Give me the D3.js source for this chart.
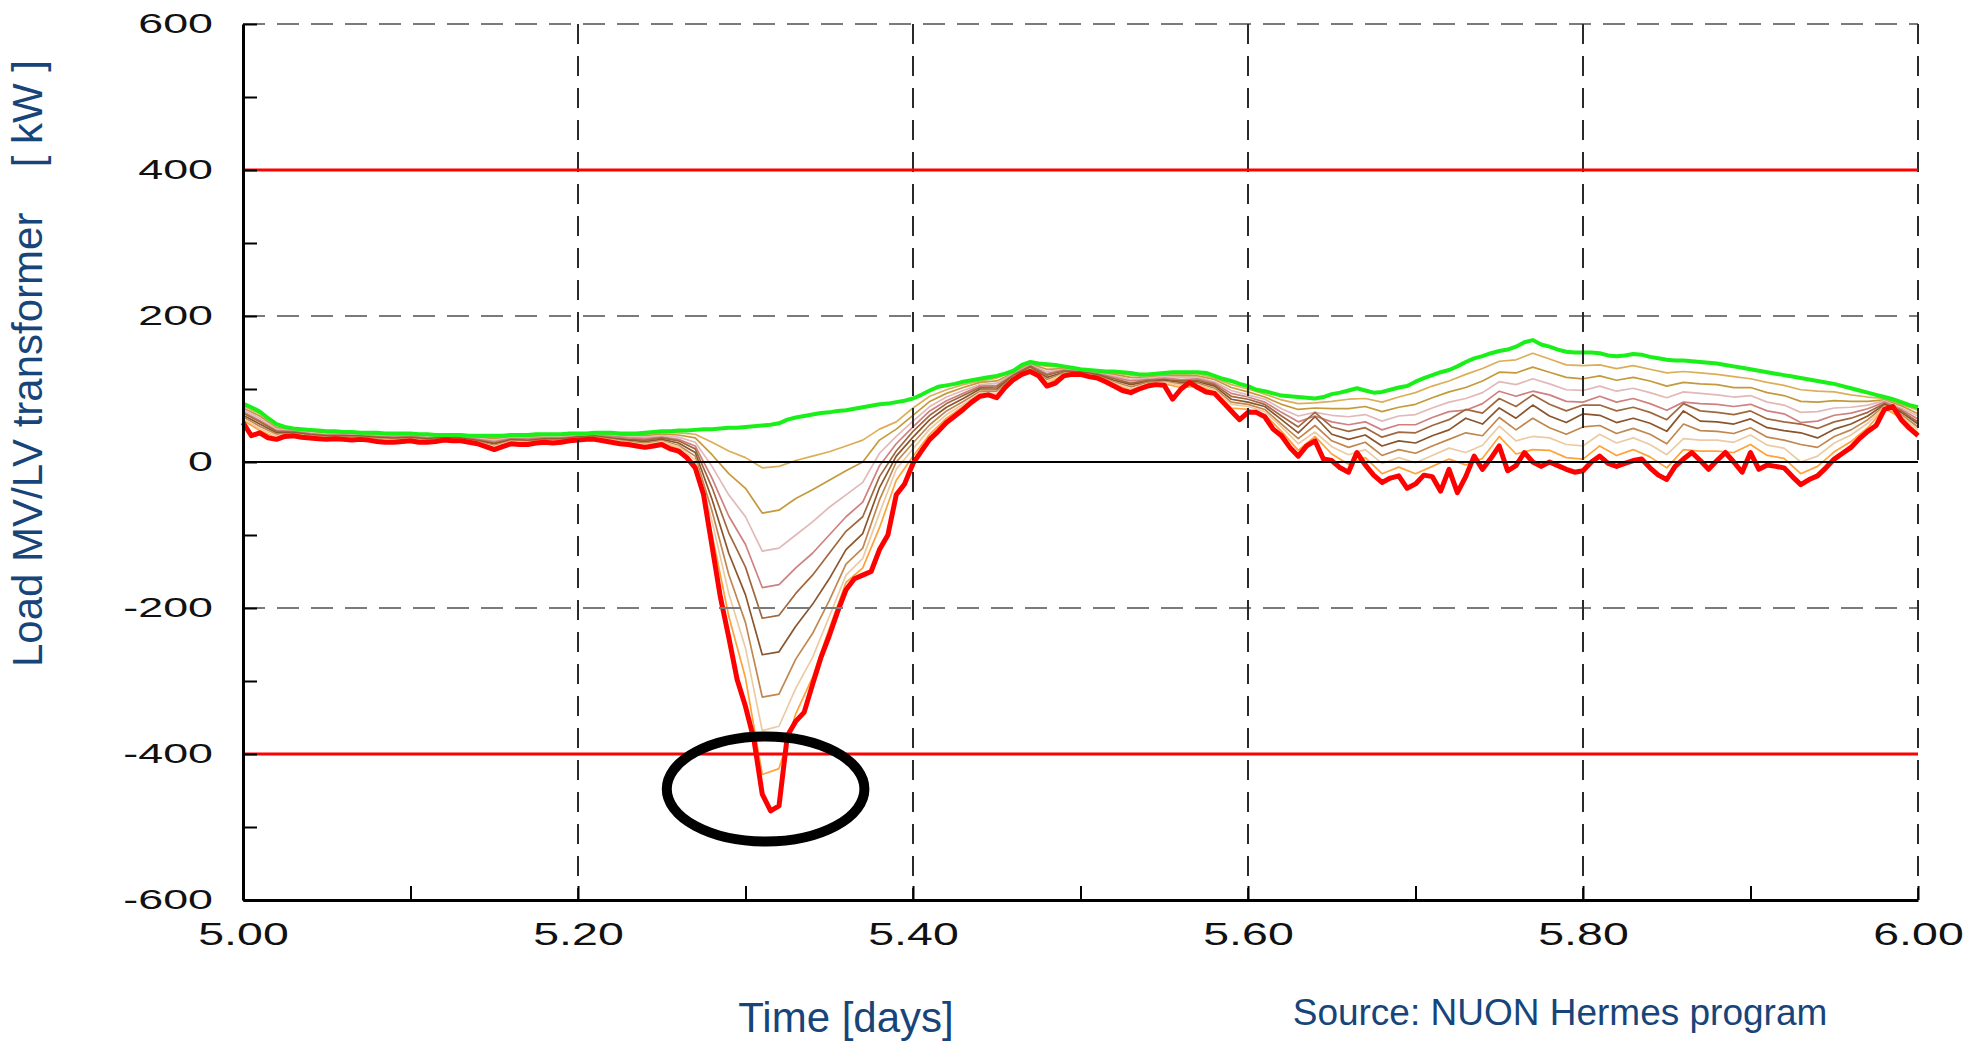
<!DOCTYPE html>
<html>

<head>
    <title>Load MV/LV transformer</title>
    <script src="https://cdnjs.cloudflare.com/ajax/libs/d3/7.8.5/d3.min.js"></script>
    <style>
        body { margin: 0; background: #fff; }
        svg { display: block; }
    </style>
</head>

<body>
    <div id="chart"></div>

    <script>
        // time grid: green and red every 0.005 day, the other curves every 0.01 day
        var fineStep = 0.005;
        var coarseStep = 0.01;

        // no PV (top, green)
        var greenLoad = [
            80, 75, 69, 60, 52, 48, 46, 45, 44, 43,
            42, 42, 41, 41, 40, 40, 40, 39, 39, 39,
            39, 38, 38, 37, 37, 37, 37, 36, 36, 36,
            36, 36, 37, 37, 37, 38, 38, 38, 38, 39,
            39, 39, 40, 40, 40, 39, 39, 39, 40, 41,
            42, 42, 43, 43, 44, 45, 45, 46, 47, 47,
            48, 49, 50, 51, 53, 58, 61, 63, 65, 67,
            68, 70, 71, 73, 75, 77, 79, 80, 82, 84,
            87, 92, 98, 103, 105, 107, 110, 112, 114, 116,
            118, 121, 125, 133, 137, 135, 134, 133, 131, 129,
            127, 126, 125, 124, 124, 123, 122, 120, 120, 121,
            122, 123, 123, 123, 123, 122, 118, 114, 111, 107,
            104, 99, 97, 94, 91, 90, 89, 88, 87, 89,
            93, 95, 98, 101, 98, 95, 96, 99, 102, 104,
            110, 115, 119, 123, 126, 131, 137, 142, 145, 149,
            152, 154, 158, 164, 167, 161, 158, 154, 151, 150,
            150, 150, 149, 146, 145, 146, 148, 147, 144, 142,
            140, 139, 139, 138, 137, 136, 135, 133, 131, 129,
            127, 125, 123, 121, 119, 117, 115, 113, 111, 109,
            107, 104, 101, 98, 95, 92, 89, 86, 82, 78,
            75
        ];

        // maximum PV (bottom, red)
        var redLoad = [
            54, 36, 40, 33, 31, 35, 36, 34, 33, 32,
            31, 32, 31, 30, 31, 30, 28, 27, 27, 28,
            29, 27, 27, 28, 30, 29, 29, 27, 25, 21,
            17, 21, 25, 24, 24, 26, 27, 26, 27, 29,
            30, 31, 31, 29, 27, 25, 24, 22, 20, 22,
            24, 18, 15, 6, -8, -45, -115, -185, -240, -298,
            -335, -380, -455, -478, -471, -375, -355, -343, -305, -268,
            -238, -205, -175, -160, -155, -150, -120, -100, -45, -30,
            -2, 15, 31, 42, 54, 63, 72, 82, 90, 92,
            88, 102, 113, 120, 124, 118, 104, 108, 118, 120,
            120, 117, 115, 110, 104, 98, 95, 100, 104, 106,
            105, 86, 100, 109, 102, 96, 94, 82, 70, 58,
            68, 68, 62, 45, 36, 20, 8, 22, 29, 4,
            2, -8, -14, 13, -4, -18, -28, -22, -19, -36,
            -30, -18, -20, -40, -10, -42, -20, 8, -10, 5,
            22, -12, -5, 13, 0, -6, 0, -5, -10, -14,
            -12, 0, 8, -2, -6, -2, 2, 4, -8, -18,
            -24, -6, 4, 13, 2, -10, 2, 13, 0, -14,
            13, -10, -4, -6, -8, -20, -31, -24, -19, -8,
            4, 12, 20, 32, 42, 50, 72, 76, 58, 46,
            36
        ];

        var curve1 = [
            77, 66, 50, 45, 43, 41, 40, 39, 39, 38,
            38, 37, 36, 36, 35, 34, 36, 36, 37, 37,
            38, 39, 39, 37, 38, 40, 40, 38, 27, 15,
            6, -8, -6, 2, 8, 14, 22, 30, 45, 55,
            74, 90, 99, 106, 111, 115, 124, 135, 131, 130,
            126, 124, 122, 119, 118, 120, 120, 121, 115, 106,
            100, 93, 85, 80, 81, 83, 86, 87, 82, 89,
            95, 104, 111, 120, 128, 138, 140, 149, 141, 133,
            132, 133, 128, 132, 127, 122, 124, 122, 120, 117,
            114, 109, 105, 99, 97, 96, 92, 89, 87, 79,
            71
        ];
        var curve2 = [
            74, 63, 47, 44, 42, 40, 39, 38, 37, 36,
            37, 36, 35, 35, 34, 32, 34, 34, 36, 36,
            37, 38, 37, 36, 36, 38, 37, 33, 10, -16,
            -36, -70, -66, -50, -38, -25, -12, 0, 30, 45,
            64, 83, 94, 102, 109, 111, 122, 134, 127, 128,
            125, 123, 120, 116, 116, 118, 118, 118, 113, 102,
            96, 89, 79, 72, 74, 73, 73, 76, 69, 75,
            79, 88, 96, 102, 111, 123, 122, 130, 123, 116,
            114, 118, 112, 116, 111, 104, 109, 107, 106, 102,
            102, 95, 91, 83, 82, 84, 83, 83, 85, 77,
            66
        ];
        var curve3 = [
            72, 60, 45, 43, 40, 38, 38, 37, 36, 35,
            36, 34, 35, 34, 32, 30, 33, 33, 34, 34,
            36, 37, 36, 34, 34, 36, 34, 27, -6, -45,
            -75, -122, -118, -100, -82, -62, -45, -28, 12, 35,
            56, 76, 89, 98, 106, 108, 121, 133, 124, 127,
            125, 122, 118, 113, 115, 117, 116, 116, 110, 98,
            92, 86, 73, 63, 68, 64, 62, 65, 56, 63,
            65, 74, 82, 87, 95, 110, 106, 114, 107, 99,
            98, 104, 97, 101, 95, 88, 96, 94, 92, 89,
            91, 82, 78, 68, 69, 74, 75, 78, 84, 74,
            63
        ];
        var curve4 = [
            69, 57, 43, 42, 39, 37, 37, 36, 35, 34,
            35, 33, 34, 34, 31, 28, 32, 32, 33, 33,
            35, 36, 35, 33, 32, 34, 31, 22, -22, -74,
            -113, -172, -168, -145, -125, -100, -75, -55, -5, 25,
            48, 70, 84, 94, 104, 105, 120, 132, 121, 126,
            124, 121, 116, 111, 113, 115, 113, 114, 108, 94,
            89, 82, 68, 55, 63, 55, 51, 55, 44, 51,
            51, 61, 69, 71, 80, 97, 90, 97, 92, 83,
            82, 90, 82, 87, 80, 71, 82, 80, 79, 76,
            79, 70, 66, 54, 56, 64, 67, 73, 82, 72,
            59
        ];
        var curve5 = [
            67, 55, 42, 41, 38, 36, 36, 35, 34, 33,
            34, 32, 33, 33, 30, 26, 31, 30, 32, 32,
            34, 35, 33, 31, 30, 33, 29, 18, -35, -97,
            -144, -214, -210, -180, -155, -125, -95, -75, -20, 15,
            42, 64, 80, 91, 102, 103, 119, 131, 119, 125,
            123, 120, 114, 108, 112, 113, 111, 112, 106, 90,
            86, 79, 63, 48, 68, 48, 42, 47, 34, 41,
            40, 50, 58, 72, 67, 87, 76, 92, 79, 70,
            78, 78, 70, 75, 68, 58, 80, 70, 68, 65,
            70, 59, 55, 52, 46, 55, 60, 68, 80, 70,
            55
        ];
        var curve6 = [
            64, 52, 40, 40, 37, 35, 35, 35, 33, 32,
            33, 31, 33, 32, 29, 25, 30, 29, 31, 31,
            34, 35, 32, 30, 28, 31, 26, 13, -51, -125,
            -182, -264, -260, -225, -195, -160, -120, -98, -35, 8,
            34, 58, 75, 87, 100, 100, 118, 129, 116, 123,
            123, 119, 112, 106, 110, 112, 109, 110, 104, 86,
            82, 76, 58, 40, 62, 38, 31, 37, 22, 29,
            26, 36, 44, 60, 52, 74, 60, 78, 63, 54,
            66, 64, 54, 60, 53, 42, 70, 56, 55, 52,
            59, 47, 43, 40, 33, 45, 52, 63, 79, 68,
            52
        ];
        var curve7 = [
            62, 49, 38, 39, 36, 34, 34, 34, 32, 31,
            32, 30, 32, 31, 28, 23, 29, 28, 30, 30,
            33, 34, 31, 28, 26, 29, 23, 8, -67, -154,
            -220, -322, -318, -270, -235, -190, -140, -118, -52, 0,
            26, 51, 70, 83, 97, 97, 117, 128, 113, 122,
            122, 118, 110, 103, 109, 110, 107, 108, 101, 82,
            79, 72, 52, 32, 50, 29, 20, 27, 9, 17,
            12, 22, 31, 40, 36, 61, 44, 60, 47, 38,
            48, 50, 39, 46, 38, 25, 52, 43, 42, 39,
            47, 34, 30, 24, 20, 35, 44, 58, 77, 65,
            48
        ];
        var curve8 = [
            59, 46, 36, 38, 35, 33, 33, 33, 31, 30,
            31, 29, 31, 31, 27, 21, 28, 27, 29, 29,
            32, 33, 30, 27, 24, 28, 21, 3, -81, -180,
            -255, -368, -362, -310, -268, -212, -155, -132, -70, -10,
            18, 45, 65, 79, 95, 94, 115, 127, 110, 121,
            121, 117, 108, 100, 107, 109, 105, 106, 99, 79,
            76, 69, 48, 25, 41, 21, 10, 17, -2, 6,
            -1, 9, 19, 13, 23, 49, 29, 35, 33, 24,
            22, 38, 26, 33, 24, 10, 32, 30, 30, 27,
            37, 23, 19, 0, 8, 26, 37, 53, 76, 63,
            44
        ];
        var curve9 = [
            57, 43, 33, 37, 34, 32, 32, 32, 29, 28,
            30, 28, 31, 30, 26, 19, 26, 25, 28, 28,
            31, 32, 28, 25, 22, 26, 18, -3, -99, -211,
            -296, -428, -420, -345, -295, -228, -165, -145, -90, -25,
            8, 38, 60, 76, 92, 91, 114, 126, 107, 119,
            121, 116, 106, 98, 106, 107, 102, 104, 96, 74,
            72, 65, 42, 16, 35, 11, -3, 6, -16, -7,
            -16, -6, 4, -4, 5, 35, 11, 17, 16, 6,
            4, 22, 9, 17, 7, -8, 17, 15, 15, 13,
            24, 9, 5, -16, -6, 14, 28, 47, 74, 60,
            40
        ];

        var middleCurves = [curve1, curve2, curve3, curve4, curve5, curve6, curve7, curve8, curve9];
        var middleColors = ["#dcae58", "#c49a3c", "#e2b8b8", "#cf8080", "#a0683e", "#8a552c", "#c08850", "#ebcba4", "#ffa238"];

        var yTicks = [-600, -500, -400, -300, -200, -100, 0, 100, 200, 300, 400, 500, 600];
        var xTicks = [5.0, 5.1, 5.2, 5.3, 5.4, 5.5, 5.6, 5.7, 5.8, 5.9, 6.0];
        var xTickLabels = ["5.00", "", "5.20", "", "5.40", "", "5.60", "", "5.80", "", "6.00"];
        var yGridLines = [-200, 200, 600];
        var xGridLines = [5.2, 5.4, 5.6, 5.8, 6.0];
        var limitLines = [400, -400];

        // the circled peak
        var markDay = 5.312, markLoad = -448, markHalfDays = 0.059, markHalfLoad = 72;

        var blue = "#17457a";
        var font = "'Liberation Sans', Arial, sans-serif";

        var svg = d3.select("#chart").append("svg")
            .attr("width", 1982)
            .attr("height", 1044);

        var x = d3.scaleLinear().domain([5, 6]).range([243, 1918]);
        var y = d3.scaleLinear().domain([-600, 600]).range([900, 24]);

        function lineFor(step) {
            return d3.line()
                .x(function (d, i) { return x(5 + i * step); })
                .y(function (d) { return y(d); });
        }

        // curves
        var curves = svg.append("g");
        for (var c = 0; c < middleCurves.length; c++) {
            curves.append("path")
                .attr("d", lineFor(coarseStep)(middleCurves[c]))
                .attr("fill", "none")
                .attr("stroke", middleColors[c])
                .attr("stroke-width", 1.7)
                .attr("stroke-linejoin", "round");
        }
        curves.append("path")
            .attr("d", lineFor(fineStep)(greenLoad))
            .attr("fill", "none")
            .attr("stroke", "#19f019")
            .attr("stroke-width", 4)
            .attr("stroke-linejoin", "round");
        curves.append("path")
            .attr("d", lineFor(fineStep)(redLoad))
            .attr("fill", "none")
            .attr("stroke", "#ff0000")
            .attr("stroke-width", 5)
            .attr("stroke-linejoin", "round");

        // grid
        svg.selectAll(".hgrid").data(yGridLines).enter().append("line")
            .attr("x1", x(5)).attr("x2", x(6))
            .attr("y1", function (d) { return y(d); })
            .attr("y2", function (d) { return y(d); })
            .attr("stroke", "#7a7a7a")
            .attr("stroke-width", 2)
            .attr("stroke-dasharray", "22,12");

        svg.selectAll(".vgrid").data(xGridLines).enter().append("line")
            .attr("x1", function (d) { return x(d); })
            .attr("x2", function (d) { return x(d); })
            .attr("y1", y(600)).attr("y2", y(-600))
            .attr("stroke", "#2a2a2a")
            .attr("stroke-width", 2)
            .attr("stroke-dasharray", "20,12");

        svg.selectAll(".limit").data(limitLines).enter().append("line")
            .attr("x1", x(5)).attr("x2", x(6))
            .attr("y1", function (d) { return y(d); })
            .attr("y2", function (d) { return y(d); })
            .attr("stroke", "#ff0000")
            .attr("stroke-width", 3);

        svg.append("line")
            .attr("x1", x(5)).attr("x2", x(6))
            .attr("y1", y(0)).attr("y2", y(0))
            .attr("stroke", "#000")
            .attr("stroke-width", 2);

        // axes
        var yAxis = svg.append("g")
            .attr("transform", "translate(" + x(5) + ",0)")
            .call(d3.axisLeft(y).tickValues(yTicks).tickSize(-14).tickSizeOuter(0).tickPadding(30)
                .tickFormat(function (d) { return d % 200 === 0 ? d : ""; }));
        yAxis.select(".domain").attr("stroke-width", 3);
        yAxis.selectAll(".tick line").attr("stroke-width", 2);
        yAxis.selectAll("text")
            .attr("x", -30 / 1.6)
            .attr("transform", "scale(1.6,1)")
            .style("font-family", font)
            .style("font-size", "28px")
            .attr("fill", "#111");

        var xAxis = svg.append("g")
            .attr("transform", "translate(0," + y(-600) + ")")
            .call(d3.axisBottom(x).tickValues(xTicks).tickSize(-14).tickSizeOuter(0).tickPadding(23)
                .tickFormat(function (d, i) { return xTickLabels[i]; }));
        xAxis.select(".domain").attr("stroke-width", 3);
        xAxis.selectAll(".tick line").attr("stroke-width", 2);
        xAxis.selectAll("text")
            .attr("transform", "scale(1.5,1)")
            .style("font-family", font)
            .style("font-size", "31px")
            .attr("fill", "#111");

        // circle round the lowest point
        svg.append("ellipse")
            .attr("cx", x(markDay))
            .attr("cy", y(markLoad))
            .attr("rx", x(5 + markHalfDays) - x(5))
            .attr("ry", y(0) - y(markHalfLoad))
            .attr("fill", "none")
            .attr("stroke", "#000")
            .attr("stroke-width", 10);

        // labels
        svg.append("text")
            .attr("transform", "translate(42,667) rotate(-90)")
            .style("font-family", font)
            .style("font-size", "42px")
            .attr("fill", blue)
            .text("Load MV/LV transformer");
        svg.append("text")
            .attr("transform", "translate(42,60) rotate(-90)")
            .attr("text-anchor", "end")
            .style("font-family", font)
            .style("font-size", "42px")
            .attr("fill", blue)
            .text("[ kW ]");

        svg.append("text")
            .attr("x", 846).attr("y", 1032)
            .attr("text-anchor", "middle")
            .style("font-family", font)
            .style("font-size", "42px")
            .attr("fill", blue)
            .text("Time [days]");

        svg.append("text")
            .attr("x", 1560).attr("y", 1025)
            .attr("text-anchor", "middle")
            .style("font-family", font)
            .style("font-size", "37px")
            .attr("fill", blue)
            .text("Source: NUON Hermes program");
    </script>

</body>

</html>
